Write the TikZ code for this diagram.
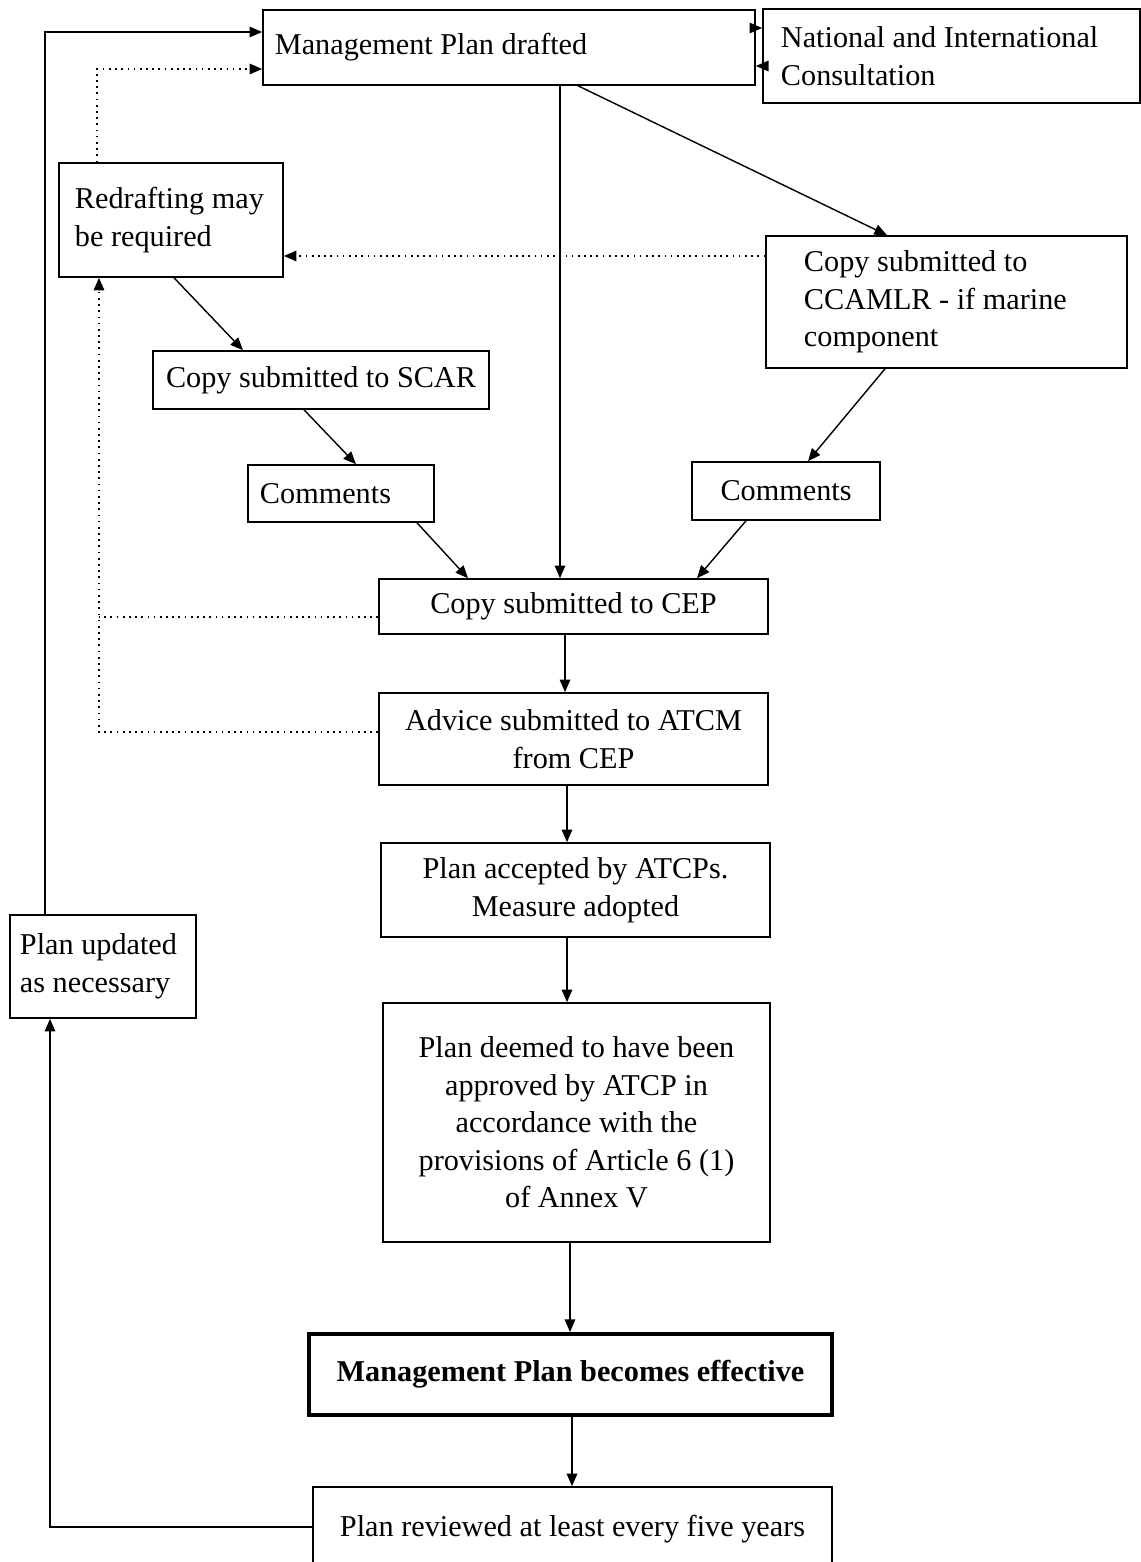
\documentclass[tikz,border=0pt]{standalone}
\usepackage{fontspec}
\setmainfont{Liberation Serif}
\usetikzlibrary{arrows.meta,calc}

\begin{document}
\begin{tikzpicture}[x=0.025cm,y=-0.025cm,>={Triangle[length=9pt,width=7.5pt]},font=\fontsize{21.5}{26.7}\selectfont,
            box/.style={draw,line width=1.1pt,inner sep=0pt,align=center},
            lbox/.style={box,align=flush left,inner xsep=#1},
            flow/.style={->,line width=1pt},
            dotline/.style={line width=1.1pt,dash pattern=on 1.2pt off 3.2pt}]
            \useasboundingbox (0,0) rectangle (1141,1562);
            \node[lbox=0.3cm,text width=11.7cm,minimum height=1.875cm] (drafted) at (509,47.5) {Management Plan drafted};
            \node[lbox=0.45cm,text width=8.525cm,minimum height=2.35cm] (natl) at (951.5,56) {National and International\\Consultation};
            \node[lbox=0.4cm,text width=4.8cm,minimum height=2.85cm] (redraft) at (171,220) {Redrafting may\\be required};
            \node[lbox=0.95cm,text width=7.125cm,minimum height=3.3cm] (ccamlr) at (946.5,302) {Copy submitted to\\CCAMLR - if marine\\component};
            \node[box,minimum width=8.4cm,minimum height=1.45cm] (scar) at (321,380) {Copy submitted to SCAR};
            \node[lbox=0.3cm,text width=4.05cm,minimum height=1.425cm] (comL) at (341,493.5) {Comments};
            \node[box,minimum width=4.7cm,minimum height=1.45cm] (comR) at (786,491) {Comments};
            \node[box,minimum width=9.725cm,minimum height=1.375cm] (cep) at (573.5,606.5) {Copy submitted to CEP};
            \node[box,minimum width=9.725cm,minimum height=2.3cm] (advice) at (573.5,739) {Advice submitted to ATCM\\from CEP};
            \node[box,minimum width=9.725cm,minimum height=2.35cm] (accepted) at (575.5,890) {Plan accepted by ATCPs.\\Measure adopted};
            \node[box,minimum width=9.675cm,minimum height=5.975cm] (deemed) at (576.5,1122.5) {Plan deemed to have been\\approved by ATCP in\\accordance with the\\provisions of Article 6 (1)\\of Annex V};
            \node[box,line width=2.8pt,minimum width=13.075cm,minimum height=2.025cm,font=\fontsize{21.5}{26.7}\selectfont\bfseries] (effective) at (570.5,1374.5) {Management Plan becomes effective};
            \node[box,minimum width=12.975cm,minimum height=2.125cm] (reviewed) at (572.5,1529.5) {\raisebox{4pt}{Plan reviewed at least every five years}};
            \node[lbox=0.25cm,text width=4.15cm,minimum height=2.575cm] (updated) at (103,966.5) {Plan updated\\as necessary};
            \coordinate (jn) at (99,617);
            \draw[flow] (drafted.east |- 0,28) -- (natl.west |- 0,28);
            \draw[flow] (natl.west |- 0,66) -- (drafted.east |- 0,66);
            \draw[flow] (drafted.south -| 560,0) -- (cep.north -| 560,0);
            \draw[flow] (drafted.south -| 578,0) -- (ccamlr.north -| 887,0);
            \draw[flow,dotline] (ccamlr.west |- 0,256) -- (redraft.east |- 0,256);
            \draw[flow,dotline] (redraft.north -| 97,0) |- (drafted.west |- 0,69);
            \draw[flow] (redraft.south -| 174,0) -- (scar.north -| 243,0);
            \draw[flow] (scar.south -| 304,0) -- (comL.north -| 356,0);
            \draw[flow] (comL.south -| 417,0) -- (cep.north -| 468,0);
            \draw[flow] (ccamlr.south -| 885,0) -- (comR.north -| 808,0);
            \draw[flow] (comR.south -| 746,0) -- (cep.north -| 697,0);
            \draw[dotline] (cep.west |- jn) -- (jn);
            \draw[flow,dotline] (advice.west |- 0,732) -| (redraft.south -| 99,0);
            \draw[flow] (cep.south -| 565,0) -- (advice.north -| 565,0);
            \draw[flow] (advice.south -| 567,0) -- (accepted.north -| 567,0);
            \draw[flow] (accepted.south -| 567,0) -- (deemed.north -| 567,0);
            \draw[flow] (deemed.south -| 570,0) -- (effective.north -| 570,0);
            \draw[flow] (effective.south -| 572,0) -- (reviewed.north -| 572,0);
            \draw[flow] (reviewed.west |- 0,1527) -| (updated.south -| 50,0);
            \draw[flow] (updated.north -| 45,0) |- (drafted.west |- 0,32);
        \end{tikzpicture}
\end{document}
